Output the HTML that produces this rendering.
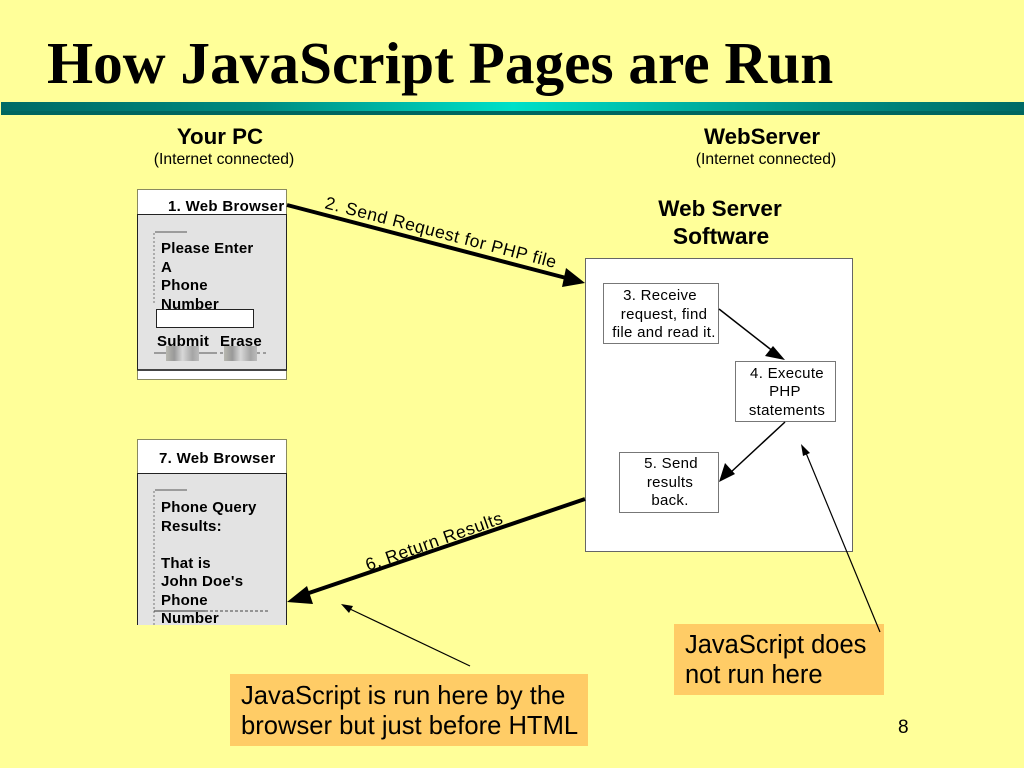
<!DOCTYPE html>
<html>
<head>
<meta charset="utf-8">
<style>
html,body{margin:0;padding:0}
body{width:1024px;height:768px;overflow:hidden;background:#FFFF99;position:relative;font-family:"Liberation Sans",sans-serif;color:#000}
.t{position:absolute;white-space:nowrap;line-height:1}
.c{transform:translateX(-50%)}
.s{font-size:15px;letter-spacing:.2px}
.n{font-size:15px;letter-spacing:.3px}
.b{font-weight:bold}
.box{position:absolute;box-sizing:border-box}
svg{position:absolute;left:0;top:0}
</style>
</head>
<body>
<div class="t" style="left:47px;top:34px;font:bold 59.3px/1 'Liberation Serif',serif">How JavaScript Pages are Run</div>
<div class="box" style="left:1px;top:102px;width:1023px;height:9px;background:linear-gradient(90deg,#006a66 0%,#008a80 25%,#00e0c8 50%,#008f85 80%,#006a66 100%)"></div>
<div class="box" style="left:1px;top:111px;width:1023px;height:4px;background:#00665f"></div>

<div class="t b c" style="left:220px;top:126px;font-size:22.3px">Your PC</div>
<div class="t c" style="left:224px;top:152px;font-size:15.7px">(Internet connected)</div>
<div class="t b c" style="left:762px;top:126px;font-size:22.3px">WebServer</div>
<div class="t c" style="left:766px;top:152px;font-size:15.7px">(Internet connected)</div>
<div class="t b c" style="left:720px;top:198px;font-size:22.5px">Web Server</div>
<div class="t b c" style="left:721px;top:225px;font-size:22.8px">Software</div>

<!-- Browser 1 -->
<div class="box" style="left:137px;top:189px;width:150px;height:191px;background:#fff;border:1px solid #8a8a60"></div>
<div class="box" style="left:137px;top:214px;width:150px;height:157px;background:#e3e3e3;border:1px solid #222;border-bottom:2px solid #444"></div>
<div class="t b" style="left:168px;top:199px;font-size:15px;letter-spacing:.3px">1. Web Browser</div>
<div class="t b s" style="left:161px;top:241px">Please Enter</div>
<div class="t b s" style="left:161px;top:260px">A</div>
<div class="t b s" style="left:161px;top:278px">Phone</div>
<div class="t b s" style="left:161px;top:297px">Number</div>
<div class="box" style="left:156px;top:309px;width:98px;height:19px;background:#fff;border:1px solid #222"></div>
<div class="box" style="left:166px;top:346px;width:33px;height:15px;background:linear-gradient(90deg,#b8b8b0,#999 25%,#d8d8d8 50%,#a5a5a5 80%,#bbb)"></div>
<div class="box" style="left:224px;top:346px;width:33px;height:15px;background:linear-gradient(90deg,#b8b8b0,#999 25%,#d8d8d8 50%,#a5a5a5 80%,#bbb)"></div>
<div class="t b s" style="left:157px;top:334px">Submit</div>
<div class="t b s" style="left:220px;top:334px">Erase</div>

<!-- Browser 7 -->
<div class="box" style="left:137px;top:439px;width:150px;height:34px;background:#fff;border:1px solid #8a8a60;border-bottom:none"></div>
<div class="box" style="left:137px;top:473px;width:150px;height:152px;background:#e3e3e3;border:1px solid #222;border-bottom:none"></div>
<div class="t b" style="left:159px;top:451px;font-size:15px;letter-spacing:.3px">7. Web Browser</div>
<div class="t b s" style="left:161px;top:500px">Phone Query</div>
<div class="t b s" style="left:161px;top:519px">Results:</div>
<div class="t b s" style="left:161px;top:556px">That is</div>
<div class="t b s" style="left:161px;top:574px">John Doe's</div>
<div class="t b s" style="left:161px;top:593px">Phone</div>
<div class="t b s" style="left:161px;top:611px;height:14px;overflow:hidden">Number</div>

<!-- Server -->
<div class="box" style="left:585px;top:258px;width:268px;height:294px;background:#fff;border:1px solid #666"></div>
<div class="box" style="left:603px;top:283px;width:116px;height:61px;background:#fff;border:1px solid #777"></div>
<div class="box" style="left:735px;top:361px;width:101px;height:61px;background:#fff;border:1px solid #777"></div>
<div class="box" style="left:619px;top:452px;width:100px;height:61px;background:#fff;border:1px solid #777"></div>
<div class="t c n" style="left:660px;top:288px">3. Receive</div>
<div class="t c n" style="left:664px;top:307px">request, find</div>
<div class="t c n" style="left:664px;top:325px">file and read it.</div>
<div class="t c n" style="left:787px;top:366px">4. Execute</div>
<div class="t c n" style="left:785px;top:384px">PHP</div>
<div class="t c n" style="left:787px;top:403px">statements</div>
<div class="t c n" style="left:671px;top:456px">5. Send</div>
<div class="t c n" style="left:670px;top:475px">results</div>
<div class="t c n" style="left:670px;top:493px">back.</div>

<!-- Callouts -->
<div class="box" style="left:674px;top:624px;width:210px;height:71px;background:#FFCC66"></div>
<div class="t" style="left:685px;top:633px;font-size:25.5px">JavaScript does</div>
<div class="t" style="left:685px;top:663px;font-size:25.5px">not run here</div>
<div class="box" style="left:230px;top:674px;width:358px;height:72px;background:#FFCC66"></div>
<div class="t" style="left:241px;top:684px;font-size:25.6px">JavaScript is run here by the</div>
<div class="t" style="left:241px;top:714px;font-size:25.6px">browser but just before HTML</div>
<div class="t" style="left:898px;top:718px;font-size:19px">8</div>

<svg width="1024" height="768" viewBox="0 0 1024 768">
<g fill="none">
<path d="M155 232H187" stroke="#555" stroke-width="1"/>
<path d="M154 233V303" stroke="#999" stroke-width="1.5" stroke-dasharray="2 2"/>
<path d="M154 353H166M199 353H214" stroke="#555" stroke-width="1"/>
<path d="M214 353H224M257 353H269" stroke="#555" stroke-width="1" stroke-dasharray="3 3"/>
<path d="M155 490H187" stroke="#555" stroke-width="1"/>
<path d="M154 491V625" stroke="#999" stroke-width="1.5" stroke-dasharray="2 2"/>
<path d="M154 611H205" stroke="#333" stroke-width="1"/>
<path d="M205 611H269" stroke="#444" stroke-width="1" stroke-dasharray="3 2"/>
<path d="M287 205L570 279" stroke="#000" stroke-width="4"/>
<path d="M585 499L303 595" stroke="#000" stroke-width="4"/>
<path d="M719 309L774 352" stroke="#000" stroke-width="1.5"/>
<path d="M785 422L730 473" stroke="#000" stroke-width="1.5"/>
<path d="M880 632L806 453" stroke="#000" stroke-width="1.2"/>
<path d="M470 666L350 609" stroke="#000" stroke-width="1.2"/>
</g>
<g fill="#000">
<path d="M585 283L566 268L562 287Z"/>
<path d="M287 602L307 586L313 604Z"/>
<path d="M785 360L773 346L765 356Z"/>
<path d="M719 482L735 474L725 463Z"/>
<path d="M801 444L803 456L810 453Z"/>
<path d="M341 604L349 613L353 606Z"/>
</g>
<text transform="translate(324 208) rotate(14.6)" font-family="Liberation Sans" font-size="17.5" letter-spacing=".55">2. Send Request for PHP file</text>
<text transform="translate(368 571) rotate(-19.5)" font-family="Liberation Sans" font-size="17.5" letter-spacing=".55">6. Return Results</text>
</svg>
</body>
</html>
